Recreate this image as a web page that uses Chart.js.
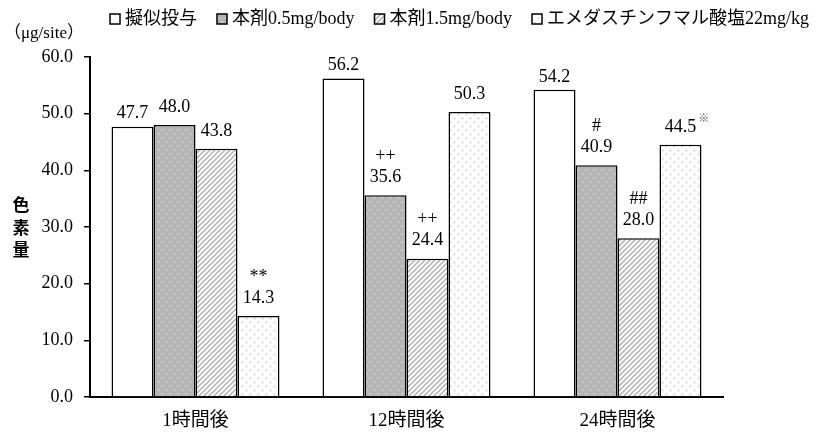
<!DOCTYPE html>
<html><head><meta charset="utf-8">
<script src="https://cdn.jsdelivr.net/npm/chart.js@4/dist/chart.umd.min.js"></script>
<style>html,body{margin:0;padding:0;background:#fff}#wrap{width:818px;height:432px;position:relative}</style>
</head><body><div id="wrap"><canvas id="c" width="818" height="432"></canvas></div>
<script>
const categories = ['1時間後', '12時間後', '24時間後'];
const seriesNames = ['擬似投与', '本剤0.5mg/body', '本剤1.5mg/body', 'エメダスチンフマル酸塩22mg/kg'];
const placebo    = [47.7, 56.2, 54.2];
const dose05     = [48.0, 35.6, 40.9];
const dose15     = [43.8, 24.4, 28.0];
const emedastine = [14.3, 50.3, 44.5];
const marks05    = ['', '++', '#'];
const marks15    = ['', '++', '##'];
const marksEme   = ['**', '', ''];
const notesEme   = ['', '', '※'];
const yMin = 0, yMax = 60, yStep = 10;
const yUnit = '（μg/site）';
const yTitle = ['色', '素', '量'];

const SERIF = "'Liberation Serif', 'Noto Sans CJK JP', serif";

function makePattern(kind) {
  const c = document.createElement('canvas');
  const x = c.getContext('2d');
  if (kind === 'white') { c.width = c.height = 4; x.fillStyle = '#fff'; x.fillRect(0,0,4,4); }
  if (kind === 'gray') {
    c.width = c.height = 8;
    x.fillStyle = '#b5b5b5'; x.fillRect(0,0,8,8);
    x.fillStyle = '#c6c6c6'; x.fillRect(1,1,3,2); x.fillRect(5,5,3,2);
  }
  if (kind === 'hatch') {
    c.width = c.height = 5;
    x.fillStyle = '#fff'; x.fillRect(0,0,5,5);
    x.strokeStyle = '#b8b8b8'; x.lineWidth = 1.6;
    x.beginPath();
    x.moveTo(-1,6); x.lineTo(6,-1);
    x.moveTo(-3,3); x.lineTo(3,-3);
    x.moveTo(2,8); x.lineTo(8,2);
    x.stroke();
  }
  if (kind === 'dots') {
    c.width = c.height = 8;
    x.fillStyle = '#fff'; x.fillRect(0,0,8,8);
    x.fillStyle = '#e2e2e2';
    x.fillRect(2,1,1,3); x.fillRect(1,2,3,1);
    x.fillRect(6,5,1,3); x.fillRect(5,6,3,1);
  }
  return document.getElementById('c').getContext('2d').createPattern(c, 'repeat');
}

const fills = [makePattern('white'), makePattern('gray'), makePattern('hatch'), makePattern('dots')];
const seriesValues = [placebo, dose05, dose15, emedastine];
const seriesMarks = [['','',''], marks05, marks15, marksEme];
const seriesNotes = [['','',''], ['','',''], ['','',''], notesEme];

const labelPlugin = {
  id: 'labels',
  afterDatasetsDraw(chart) {
    const ctx = chart.ctx;
    ctx.save();
    ctx.fillStyle = '#000';
    ctx.textAlign = 'center';
    ctx.textBaseline = 'middle';
    chart.data.datasets.forEach((ds, i) => {
      const meta = chart.getDatasetMeta(i);
      const off = i === 0 ? 13 : 18;
      meta.data.forEach((el, j) => {
        const v = ds.data[j];
        const txt = v.toFixed(1);
        ctx.font = '18px ' + SERIF;
        const ty = el.y - off;
        ctx.fillText(txt, el.x, ty);
        const m = seriesMarks[i][j];
        if (m) ctx.fillText(m, el.x, ty - 21);
        const n = seriesNotes[i][j];
        if (n) {
          const w = ctx.measureText(txt).width;
          ctx.font = '11px ' + SERIF;
          ctx.textAlign = 'left';
          ctx.fillStyle = '#555';
          ctx.fillText(n, el.x + w / 2 + 2, ty - 8);
          ctx.fillStyle = '#000';
          ctx.textAlign = 'center';
        }
      });
    });
    ctx.restore();
  }
};

const decorPlugin = {
  id: 'decor',
  beforeDraw(chart) {
    const ctx = chart.ctx;
    ctx.save();
    ctx.fillStyle = '#fff';
    ctx.fillRect(0, 0, chart.width, chart.height);
    ctx.restore();
  },
  afterDraw(chart) {
    const ctx = chart.ctx;
    ctx.save();
    ctx.fillStyle = '#000';
    // unit
    ctx.font = '17px ' + SERIF;
    ctx.textBaseline = 'middle';
    ctx.textAlign = 'left';
    ctx.fillText(yUnit, 4, 34);
    // vertical title
    ctx.font = 'bold 17px "Noto Sans CJK JP"';
    ctx.textAlign = 'center';
    yTitle.forEach((ch, k) => ctx.fillText(ch, 21, 205 + k * 22.5));
    // legend
    ctx.font = '18px ' + SERIF;
    let x = 110;
    chart.data.datasets.forEach((ds, i) => {
      ctx.fillStyle = ds.backgroundColor;
      ctx.fillRect(x, 14, 10, 10);
      ctx.strokeStyle = '#000';
      ctx.lineWidth = 1.5;
      ctx.strokeRect(x, 14, 10, 10);
      ctx.fillStyle = '#000';
      ctx.textAlign = 'left';
      ctx.fillText(ds.label, x + 15, 19);
      x += 15 + ctx.measureText(ds.label).width + 20;
    });
    ctx.restore();
  }
};

new Chart(document.getElementById('c'), {
  type: 'bar',
  data: {
    labels: categories,
    datasets: seriesNames.map((name, i) => ({
      label: name,
      data: seriesValues[i],
      backgroundColor: fills[i],
      borderColor: '#000',
      borderWidth: 1.5,
      categoryPercentage: 0.796,
      barPercentage: 1.0
    }))
  },
  options: {
    responsive: false,
    animation: false,
    devicePixelRatio: 1,
    layout: { padding: { top: 57, right: 95, bottom: 0, left: 0 } },
    plugins: { legend: { display: false }, tooltip: { enabled: false } },
    scales: {
      x: {
        offset: true,
        grid: {
          display: true, drawOnChartArea: false, drawTicks: true, tickLength: 5,
          color: (c) => (c.index === categories.length ? '#000' : 'rgba(0,0,0,0)'),
          lineWidth: 2
        },
        border: { color: '#000', width: 2 },
        ticks: { color: '#000', font: { family: SERIF, size: 19 }, padding: 8 },
        afterFit(s) { s.height = 35; }
      },
      y: {
        min: yMin, max: yMax,
        grid: { display: true, drawOnChartArea: false, drawTicks: true, tickLength: 6, color: '#000', lineWidth: 1.5 },
        border: { color: '#000', width: 2 },
        ticks: { stepSize: yStep, color: '#000', font: { family: SERIF, size: 18 }, padding: 11,
                 callback: (v) => Number(v).toFixed(1) },
        afterFit(s) { s.width = 90; }
      }
    }
  },
  plugins: [decorPlugin, labelPlugin]
});
</script>
</body></html>
